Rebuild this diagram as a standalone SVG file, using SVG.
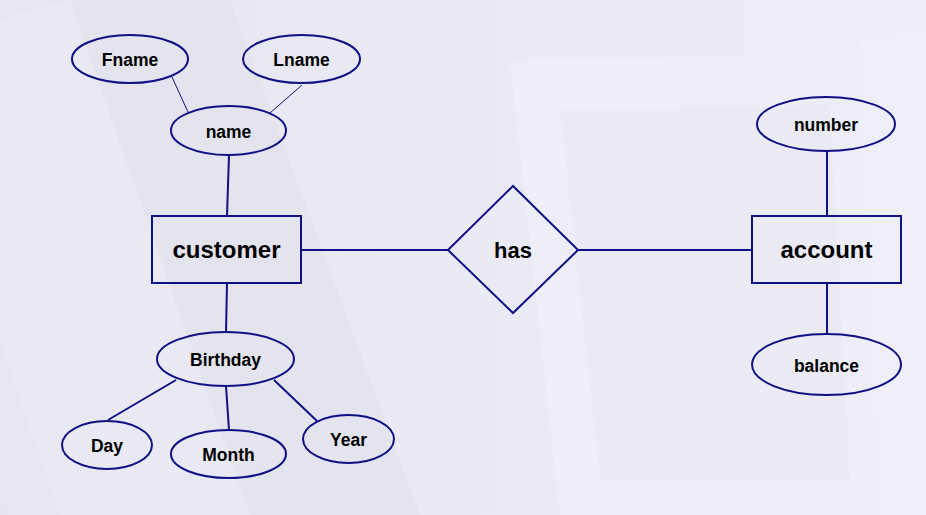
<svg xmlns="http://www.w3.org/2000/svg" width="926" height="515" viewBox="0 0 926 515">
<defs>
<style>
.shape{fill:none;stroke:#0f0f86;stroke-width:2}
.line{stroke:#0f0f86;stroke-width:2;fill:none}
.thin{stroke:#0f0f86;stroke-width:1;fill:none}
.t{font-family:"Liberation Sans",Arial,sans-serif;font-weight:bold;font-size:17.5px;fill:#000;text-anchor:middle}
.big{font-size:24px}
</style>
<linearGradient id="bg" x1="0" y1="0" x2="1" y2="0">
<stop offset="0" stop-color="#e6e6f1"/>
<stop offset="0.5" stop-color="#eaeaf4"/>
<stop offset="1" stop-color="#eeeef8"/>
</linearGradient>
</defs>
<g id="background">
<rect x="0" y="0" width="926" height="515" fill="url(#bg)"/>
<polygon points="0,20 70,0 250,515 60,515 0,340" fill="#e9e9f3"/>
<polygon points="70,0 230,0 420,515 250,515" fill="#e4e4ef"/>
<polygon points="510,60 880,55 900,515 560,515" fill="#eeeef8"/>
<polygon points="560,110 830,105 850,480 600,480" fill="#ebebf5"/>
<polygon points="860,40 926,30 926,515 880,515" fill="#efeff9"/>
</g>
<g id="connectors">
<line class="thin" x1="172" y1="77" x2="188" y2="112"/>
<line class="thin" x1="302" y1="85" x2="270" y2="113"/>
<line class="line" x1="229" y1="155" x2="227" y2="216"/>
<line class="line" x1="301" y1="250" x2="448" y2="250"/>
<line class="line" x1="578" y1="250" x2="752" y2="250"/>
<line class="line" x1="827" y1="151" x2="827" y2="216"/>
<line class="line" x1="827" y1="283" x2="827" y2="334"/>
<line class="line" x1="227" y1="283" x2="226" y2="332"/>
<line class="line" x1="176" y1="380" x2="108" y2="420"/>
<line class="line" x1="226" y1="386" x2="229" y2="430"/>
<line class="line" x1="274" y1="380" x2="317" y2="421"/>
</g>
<g id="Fname"><ellipse class="shape" cx="130" cy="59" rx="58" ry="24"/><text class="t" x="130" y="66">Fname</text></g>
<g id="Lname"><ellipse class="shape" cx="301.5" cy="59" rx="58.5" ry="24"/><text class="t" x="301.5" y="66">Lname</text></g>
<g id="name"><ellipse class="shape" cx="228.5" cy="130.5" rx="57.5" ry="24.5"/><text class="t" x="228.5" y="137.5">name</text></g>
<g id="customer"><rect class="shape" x="152" y="216" width="149" height="67"/><text class="t big" x="226.5" y="258">customer</text></g>
<g id="has"><polygon class="shape" points="448,250 513,186 578,250 513,313"/><text class="t" style="font-size:22px" x="513" y="258">has</text></g>
<g id="account"><rect class="shape" x="752" y="216" width="149" height="67"/><text class="t big" x="826.5" y="258">account</text></g>
<g id="number"><ellipse class="shape" cx="826" cy="124" rx="69" ry="27"/><text class="t" x="826" y="131">number</text></g>
<g id="balance"><ellipse class="shape" cx="826.5" cy="364.5" rx="74.5" ry="30.5"/><text class="t" x="826.5" y="372">balance</text></g>
<g id="Birthday"><ellipse class="shape" cx="225.5" cy="359" rx="68.5" ry="27"/><text class="t" x="225.5" y="366">Birthday</text></g>
<g id="Day"><ellipse class="shape" cx="107" cy="445" rx="45" ry="24"/><text class="t" x="107" y="452">Day</text></g>
<g id="Month"><ellipse class="shape" cx="228.5" cy="454" rx="57.5" ry="24"/><text class="t" x="228.5" y="461">Month</text></g>
<g id="Year"><ellipse class="shape" cx="348.5" cy="439" rx="45.5" ry="24"/><text class="t" x="348.5" y="446">Year</text></g>
</svg>
